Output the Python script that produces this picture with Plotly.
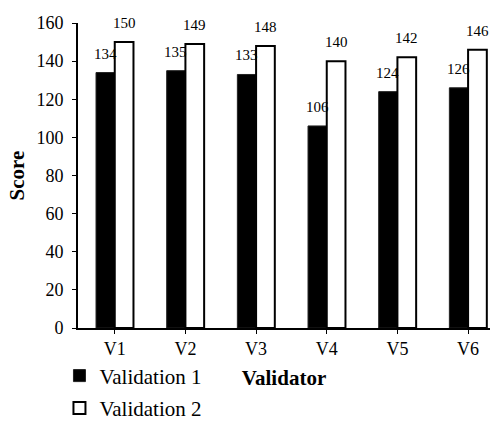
import plotly.graph_objects as go

categories = ["V1", "V2", "V3", "V4", "V5", "V6"]
validation1 = [134, 135, 133, 106, 124, 126]
validation2 = [150, 149, 148, 140, 142, 146]
y_ticks = [0, 20, 40, 60, 80, 100, 120, 140, 160]

FONT = "Liberation Serif"

fig = go.Figure()
fig.add_trace(go.Bar(
    x=categories, y=validation1, name="Validation 1", legendgroup="g1",
    marker=dict(color="#000000", line=dict(color="#222222", width=1)),
))
fig.add_trace(go.Bar(
    x=categories, y=validation2, name="Validation 2", legendgroup="g2",
    marker=dict(color="#ffffff", line=dict(color="#000000", width=2)),
))

for c, v in zip(categories, validation1):
    fig.add_annotation(x=c, y=v, text=str(v), showarrow=False, xshift=-9.5,
                       yanchor="bottom", yshift=9,
                       font=dict(family=FONT, size=15, color="#000000"))
for c, v in zip(categories, validation2):
    fig.add_annotation(x=c, y=v, text=str(v), showarrow=False, xshift=9.5,
                       yanchor="bottom", yshift=9,
                       font=dict(family=FONT, size=15, color="#000000"))

fig.update_layout(
    width=493, height=421,
    margin=dict(l=78, r=3, t=23, b=93, autoexpand=False),
    paper_bgcolor="white", plot_bgcolor="white",
    barmode="group", bargap=0.47, bargroupgap=0,
    font=dict(family=FONT, size=18, color="#000000"),
    showlegend=True,
    legend=dict(x=-0.045, y=-0.09, xanchor="left", yanchor="top", orientation="v",
                font=dict(family=FONT, size=21, color="#000000"), bgcolor="rgba(0,0,0,0)",
                traceorder="grouped", tracegroupgap=2),
    xaxis=dict(range=[-0.52, 5.31], showline=True, linecolor="#000000", linewidth=1.5,
               ticks="outside", ticklen=4, tickcolor="#000000", showgrid=False,
               tickfont=dict(family=FONT, size=18),
               title=dict(text="<b>Validator</b>", font=dict(family=FONT, size=21), standoff=12)),
    yaxis=dict(range=[0, 160], tickvals=y_ticks, showline=True, linecolor="#000000", linewidth=2,
               ticks="outside", ticklen=4, tickcolor="#000000", showgrid=False, zeroline=False,
               ticklabelstandoff=5,
               tickfont=dict(family=FONT, size=18),
               title=dict(text="<b>Score</b>", font=dict(family=FONT, size=21), standoff=6)),
)

fig.write_html("out.html")
